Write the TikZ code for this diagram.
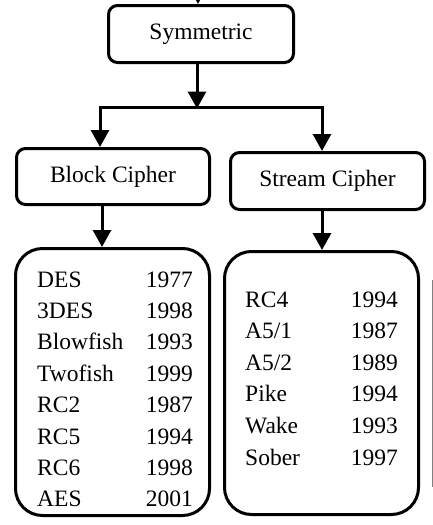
\documentclass[tikz,border=0pt]{standalone}
\usepackage{fontspec}
\setmainfont{Liberation Serif}
\usetikzlibrary{arrows.meta}
\begin{document}
\begin{tikzpicture}[x=1pt,y=-1pt,
  box/.style={draw=black,line width=3pt,rounded corners=9pt,inner sep=0pt,
    font=\fontsize{23.5}{28}\selectfont},
  listbox/.style={draw=black,line width=3pt,rounded corners=27pt,inner sep=0pt},
  conn/.style={line width=3pt},
  arr/.style={line width=3pt,-{Triangle[length=17pt,width=18pt]}},
  item/.style={inner sep=0pt,font=\fontsize{23.5}{28}\selectfont}]
\useasboundingbox (0,0) rectangle (433,525);
\clip (0,0) rectangle (433,525);

\node[box,minimum width=185pt,minimum height=57pt] (sym) at (201,34) {Symmetric};
\node[box,minimum width=193pt,minimum height=56pt] (block) at (113,176.5) {Block Cipher};
\node[box,minimum width=194pt,minimum height=57pt] (stream) at (327.5,181) {Stream Cipher};
\node[listbox,minimum width=194pt,minimum height=267pt] (blist) at (112.5,382) {};
\node[listbox,minimum width=194pt,minimum height=263pt] (slist) at (321.5,383) {};

\coordinate (top) at (198,-25);
\coordinate (split) at (197,107);
\coordinate (jl) at (100,107);
\coordinate (jr) at (322,107);

\draw[arr] (top) -- (top |- sym.north);
\draw[arr] (sym.south -| split) -- ([yshift=-1.5pt]split);
\draw[conn,line cap=rect] (jl) -- (jr);
\draw[arr] (jl) -- (jl |- block.north);
\draw[arr] (jr) -- (jr |- stream.north);
\draw[arr] ([xshift=-11pt]block.south) -- ([xshift=-10.5pt]blist.north);
\draw[arr] ([xshift=-5.5pt]stream.south) -- ([xshift=0.5pt]slist.north);

% block cipher list
\foreach \n/\y [count=\i from 0] in {DES/1977,3DES/1998,Blowfish/1993,Twofish/1999,RC2/1987,RC5/1994,RC6/1998,AES/2001}{
  \node[item,anchor=base west] (bn\i) at (37,287+31.4*\i) {\n};
  \node[item,anchor=base east] (by\i) at (193,287+31.4*\i) {\y};
}
% stream cipher list
\node[item,anchor=base west] (sn0) at (245,307) {RC4};
\node[item,anchor=base east] (sy0) at (398,307) {1994};
\node[item,anchor=base west] (sn1) at (245,338.6) {A5/1};
\node[item,anchor=base east] (sy1) at (398,338.6) {1987};
\node[item,anchor=base west] (sn2) at (245,370.2) {A5/2};
\node[item,anchor=base east] (sy2) at (398,370.2) {1989};
\node[item,anchor=base west] (sn3) at (245,401.8) {Pike};
\node[item,anchor=base east] (sy3) at (398,401.8) {1994};
\node[item,anchor=base west] (sn4) at (245,433.4) {Wake};
\node[item,anchor=base east] (sy4) at (398,433.4) {1993};
\node[item,anchor=base west] (sn5) at (245,465) {Sober};
\node[item,anchor=base east] (sy5) at (398,465) {1997};

\draw[gray,line width=1pt] (432,280) -- (432,487);
\end{tikzpicture}
\end{document}
